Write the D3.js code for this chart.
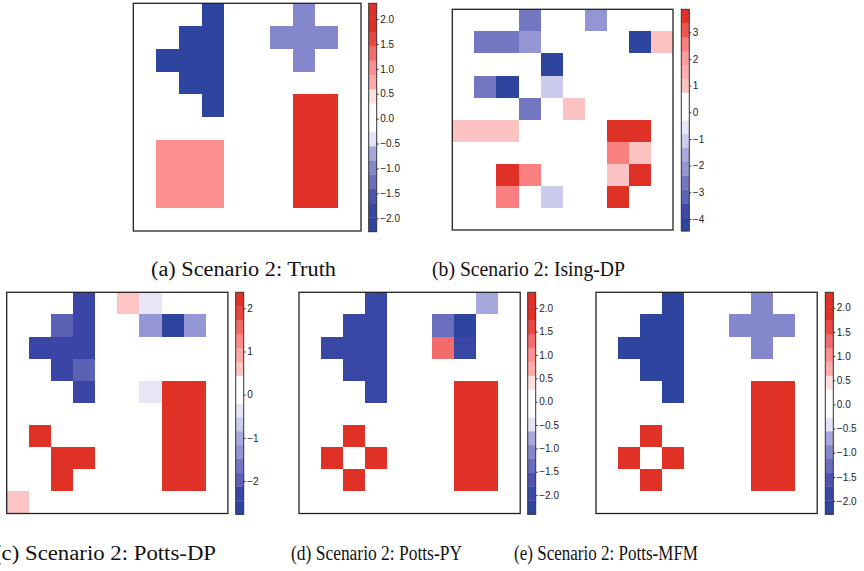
<!DOCTYPE html>
<html>
<head>
<meta charset="utf-8">
<script src="https://cdn.jsdelivr.net/npm/d3@7"></script>
<style>
  body { margin: 0; background: #fff; }
</style>
</head>
<body>
<svg id="fig" width="864" height="571"></svg>
<script>
// 10 x 10 grids, row 0 is the top row
var truthValues = [
    [0, 0, 0, -2, 0, 0, 0, -1, 0, 0],
    [0, 0, -2, -2, 0, 0, -1, -1, -1, 0],
    [0, -2, -2, -2, 0, 0, 0, -1, 0, 0],
    [0, 0, -2, -2, 0, 0, 0, 0, 0, 0],
    [0, 0, 0, -2, 0, 0, 0, 2, 2, 0],
    [0, 0, 0, 0, 0, 0, 0, 2, 2, 0],
    [0, 1, 1, 1, 0, 0, 0, 2, 2, 0],
    [0, 1, 1, 1, 0, 0, 0, 2, 2, 0],
    [0, 1, 1, 1, 0, 0, 0, 2, 2, 0],
    [0, 0, 0, 0, 0, 0, 0, 0, 0, 0]
];
var isingDPValues = [
    [0, 0, 0, -2.6, 0, 0, -2.1, 0, 0, 0],
    [0, -2.6, -2.6, -2.1, 0, 0, 0, 0, -4.2, 1.0],
    [0, 0, 0, 0, -4.2, 0, 0, 0, 0, 0],
    [0, -2.6, -4.2, 0, -1.1, 0, 0, 0, 0, 0],
    [0, 0, 0, -2.6, 0, 1.0, 0, 0, 0, 0],
    [1.0, 1.0, 1.0, 0, 0, 0, 0, 3.6, 3.6, 0],
    [0, 0, 0, 0, 0, 0, 0, 2.5, 1.0, 0],
    [0, 0, 3.6, 2.5, 0, 0, 0, 1.0, 3.6, 0],
    [0, 0, 2.5, 0, -1.1, 0, 0, 3.6, 0, 0],
    [0, 0, 0, 0, 0, 0, 0, 0, 0, 0]
];
var pottsDPValues = [
    [0, 0, 0, -2.3, 0, 0.6, -0.35, 0, 0, 0],
    [0, 0, -1.95, -2.3, 0, 0, -1.3, -2.6, -1.3, 0],
    [0, -2.3, -2.2, -2.3, 0, 0, 0, 0, 0, 0],
    [0, 0, -2.3, -1.95, 0, 0, 0, 0, 0, 0],
    [0, 0, 0, -2.3, 0, 0, -0.35, 2.2, 2.2, 0],
    [0, 0, 0, 0, 0, 0, 0, 2.25, 2.2, 0],
    [0, 2.2, 0, 0, 0, 0, 0, 2.2, 2.25, 0],
    [0, 0, 2.2, 2.2, 0, 0, 0, 2.2, 2.2, 0],
    [0, 0, 2.2, 0, 0, 0, 0, 2.2, 2.2, 0],
    [0.6, 0, 0, 0, 0, 0, 0, 0, 0, 0]
];
var pottsPYValues = [
    [0, 0, 0, -2.0, 0, 0, 0, 0, -0.8, 0],
    [0, 0, -2.0, -2.0, 0, 0, -1.4, -2.2, 0, 0],
    [0, -2.0, -2.0, -2.0, 0, 0, 1.3, -2.0, 0, 0],
    [0, 0, -2.0, -2.0, 0, 0, 0, 0, 0, 0],
    [0, 0, 0, -2.0, 0, 0, 0, 2.1, 2.1, 0],
    [0, 0, 0, 0, 0, 0, 0, 2.1, 2.1, 0],
    [0, 0, 2.1, 0, 0, 0, 0, 2.1, 2.1, 0],
    [0, 2.1, 0, 2.1, 0, 0, 0, 2.1, 2.1, 0],
    [0, 0, 2.1, 0, 0, 0, 0, 2.1, 2.1, 0],
    [0, 0, 0, 0, 0, 0, 0, 0, 0, 0]
];
var pottsMFMValues = [
    [0, 0, 0, -2, 0, 0, 0, -1, 0, 0],
    [0, 0, -2, -2, 0, 0, -1, -1, -1, 0],
    [0, -2, -2, -2, 0, 0, 0, -1, 0, 0],
    [0, 0, -2, -2, 0, 0, 0, 0, 0, 0],
    [0, 0, 0, -2, 0, 0, 0, 2, 2, 0],
    [0, 0, 0, 0, 0, 0, 0, 2, 2, 0],
    [0, 0, 2, 0, 0, 0, 0, 2, 2, 0],
    [0, 2, 0, 2, 0, 0, 0, 2, 2, 0],
    [0, 0, 2, 0, 0, 0, 0, 2, 2, 0],
    [0, 0, 0, 0, 0, 0, 0, 0, 0, 0]
];

// colour bar limits
var truthRange = [-2.27, 2.315];
var isingDPRange = [-4.45, 3.86];
var pottsDPRange = [-2.77, 2.37];
var pottsPYRange = [-2.41, 2.34];
var pottsMFMRange = [-2.275, 2.32];

// tick labels
var ticksHalf = [-2, -1.5, -1, -0.5, 0, 0.5, 1, 1.5, 2];
var ticksIsing = [-4, -3, -2, -1, 0, 1, 2, 3];
var ticksPottsDP = [-2, -1, 0, 1, 2];

var captions = [
    "(a) Scenario 2: Truth",
    "(b) Scenario 2: Ising-DP",
    "(c) Scenario 2: Potts-DP",
    "(d) Scenario 2: Potts-PY",
    "(e) Scenario 2: Potts-MFM"
];

// colour bands, lowest first (16 bands per bar)
var bandsA = ["#2E45A0", "#3A48A5", "#4E55AD", "#6A6EBD", "#8587CC", "#A6A7DD", "#E4E4F6", "#FFFFFF",
              "#FFFFFF", "#FDE0E0", "#FDAAAA", "#FC8F8F", "#F36C6C", "#E84840", "#E03126", "#E03126"];
var bandsB = ["#2E45A0", "#4048A8", "#5C62B4", "#7377C1", "#9496D4", "#A8A9DE", "#CBCBEE", "#E6E6F7",
              "#FFFFFF", "#FFFFFF", "#FDC2C2", "#FDAFAF", "#FC9B9B", "#FA7F7F", "#EC5752", "#E03126"];
var bandsC = ["#2E45A0", "#3A45A5", "#5A62B5", "#7377C1", "#9497D4", "#A8A9DE", "#CBCBEE", "#E6E6F7",
              "#FFFFFF", "#FFFFFF", "#FDC4C4", "#FDA5A5", "#FB8A8A", "#F06A6A", "#E8453E", "#E03126"];

var svg = d3.select("#fig");

var panels = [
    { values: truthValues, range: truthRange, ticks: ticksHalf, fmt: d3.format(".1f"), colors: bandsA,
      left: 133.3, top: 3.3, size: 227.7, cbLeft: 368.7, cbTop: 3.3, cbBottom: 231.7 },
    { values: isingDPValues, range: isingDPRange, ticks: ticksIsing, fmt: d3.format("d"), colors: bandsB,
      left: 452.3, top: 9.3, size: 220.7, cbLeft: 681.3, cbTop: 9.3, cbBottom: 231 },
    { values: pottsDPValues, range: pottsDPRange, ticks: ticksPottsDP, fmt: d3.format("d"), colors: bandsC,
      left: 6.7, top: 292.3, size: 221.2, cbLeft: 235.7, cbTop: 292.3, cbBottom: 514.3 },
    { values: pottsPYValues, range: pottsPYRange, ticks: ticksHalf, fmt: d3.format(".1f"), colors: bandsA,
      left: 299, top: 292.3, size: 221.2, cbLeft: 527.7, cbTop: 292.3, cbBottom: 514.3 },
    { values: pottsMFMValues, range: pottsMFMRange, ticks: ticksHalf, fmt: d3.format(".1f"), colors: bandsA,
      left: 596, top: 292.3, size: 221.2, cbLeft: 825.3, cbTop: 292.3, cbBottom: 514.3 }
];

panels.forEach(function (p) {
    var g = svg.append("g");
    var x = d3.scaleBand().domain(d3.range(10)).range([p.left, p.left + p.size]);
    var y = d3.scaleBand().domain(d3.range(10)).range([p.top, p.top + p.size]);
    var color = d3.scaleQuantize().domain(p.range).range(p.colors);

    var cells = [];
    p.values.forEach(function (row, i) {
        row.forEach(function (v, j) { cells.push({ r: i, c: j, v: v }); });
    });

    g.selectAll("rect.cell")
        .data(cells)
        .enter()
        .append("rect")
        .attr("class", "cell")
        .attr("x", (d) => x(d.c))
        .attr("y", (d) => y(d.r))
        .attr("width", x.bandwidth())
        .attr("height", y.bandwidth())
        .attr("fill", (d) => color(d.v))
        .attr("shape-rendering", "crispEdges");

    // frame
    g.append("rect")
        .attr("x", p.left)
        .attr("y", p.top)
        .attr("width", p.size)
        .attr("height", p.size)
        .attr("fill", "none")
        .attr("stroke", "#222")
        .attr("stroke-width", 1.3);

    // colour bar
    var cy = d3.scaleLinear().domain(p.range).range([p.cbBottom, p.cbTop]);
    var edges = [p.range[0]].concat(color.thresholds(), [p.range[1]]);
    g.selectAll("rect.band")
        .data(p.colors)
        .enter()
        .append("rect")
        .attr("class", "band")
        .attr("x", p.cbLeft)
        .attr("width", 8)
        .attr("y", (c, i) => cy(edges[i + 1]))
        .attr("height", (c, i) => cy(edges[i]) - cy(edges[i + 1]) + 0.3)
        .attr("fill", (c) => c);

    g.append("rect")
        .attr("x", p.cbLeft)
        .attr("y", p.cbTop)
        .attr("width", 8)
        .attr("height", p.cbBottom - p.cbTop)
        .attr("fill", "none")
        .attr("stroke", "#333")
        .attr("stroke-width", 1);

    var axis = d3.axisRight(cy)
        .tickValues(p.ticks)
        .tickSize(2)
        .tickPadding(1.5)
        .tickFormat(p.fmt);

    var ax = g.append("g")
        .attr("transform", "translate(" + (p.cbLeft + 8) + ",0)")
        .call(axis);
    ax.select(".domain").remove();
    ax.selectAll("line").attr("stroke", "#333");
    ax.selectAll("text")
        .attr("font-family", "'Liberation Sans', Arial, sans-serif")
        .attr("font-size", 10)
        .attr("fill", "#222");
});

// sub-captions
var capPos = [
    { x: 151, y: 276, w: 185 },
    { x: 432, y: 276, w: 193 },
    { x: -6, y: 560, w: 222 },
    { x: 291, y: 560, w: 171 },
    { x: 514, y: 560, w: 184 }
];

svg.selectAll("text.caption")
    .data(captions)
    .enter()
    .append("text")
    .attr("class", "caption")
    .attr("x", (d, i) => capPos[i].x)
    .attr("y", (d, i) => capPos[i].y)
    .attr("textLength", (d, i) => capPos[i].w)
    .attr("lengthAdjust", "spacingAndGlyphs")
    .attr("font-family", "'Liberation Serif', 'Times New Roman', serif")
    .attr("font-size", 20)
    .attr("fill", "#111")
    .text((d) => d);
</script>
</body>
</html>
